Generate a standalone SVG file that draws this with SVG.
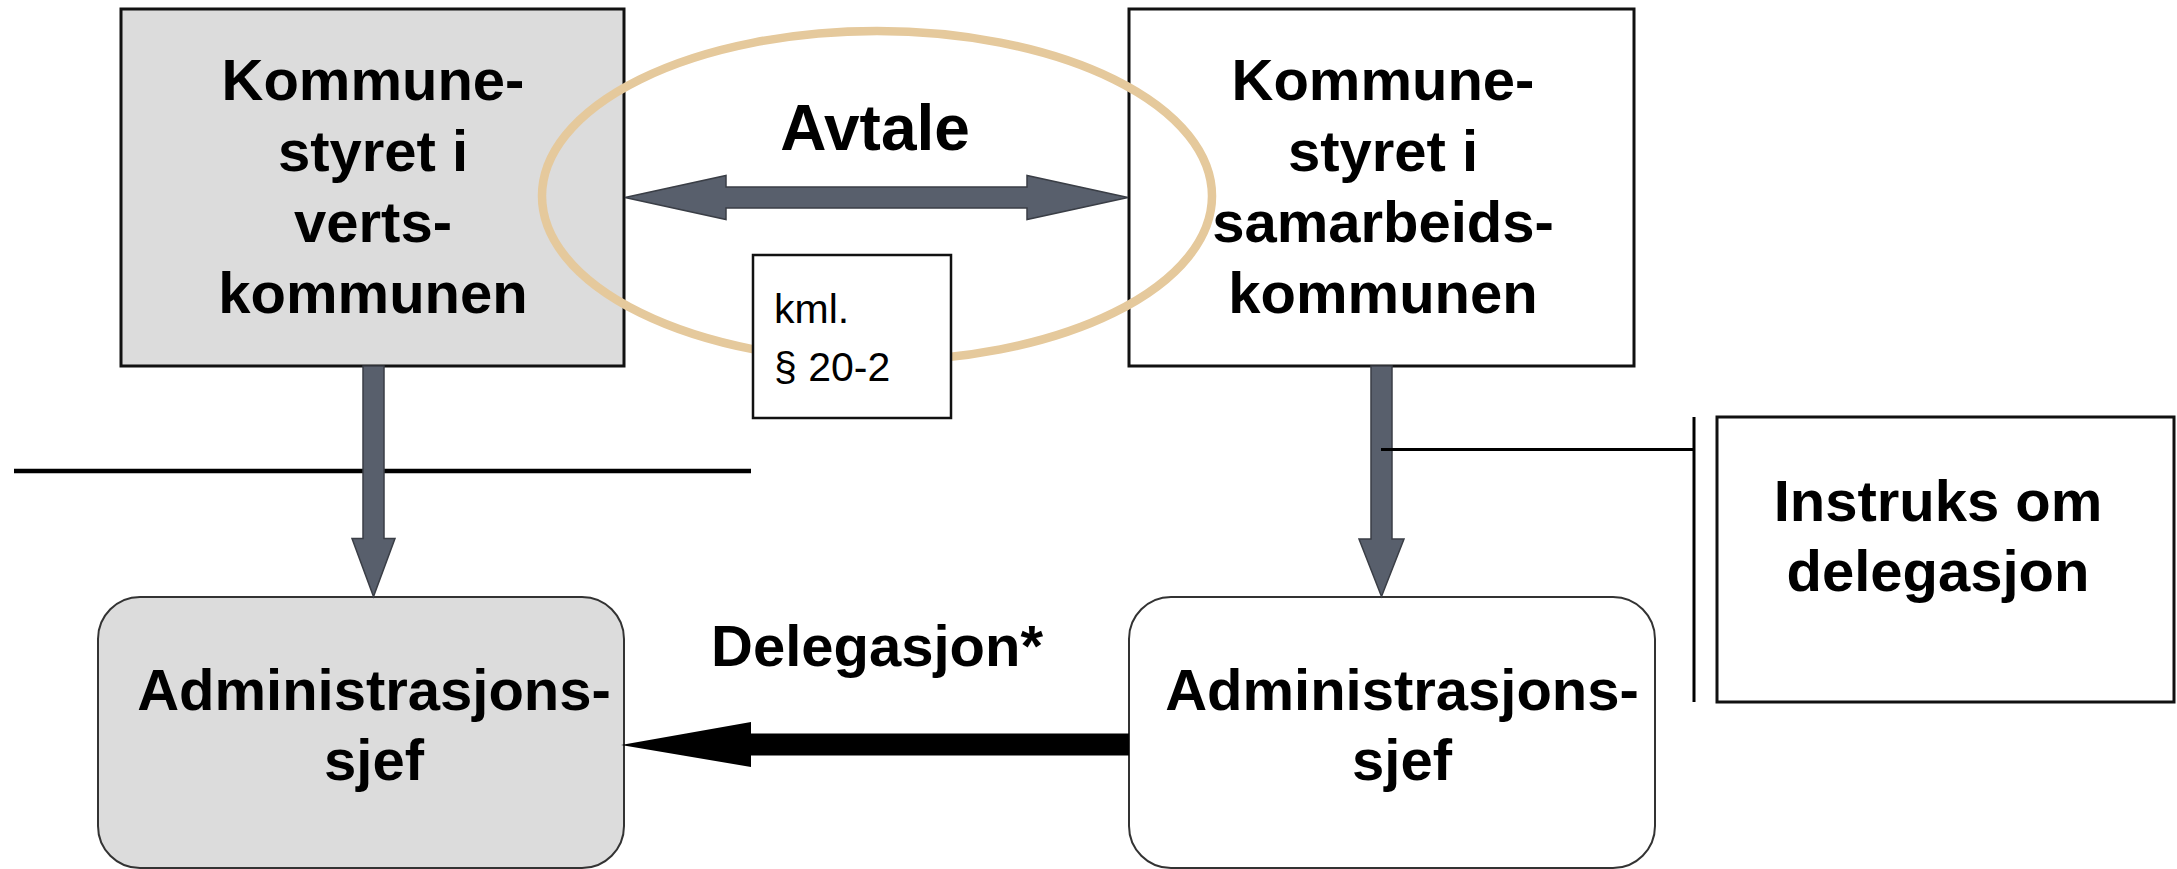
<svg xmlns="http://www.w3.org/2000/svg" width="2177" height="869" viewBox="0 0 2177 869">
<style>
.t{font-family:"Liberation Sans",Arial,sans-serif;font-weight:bold;font-size:58px;fill:#000;text-anchor:middle}
.s{font-family:"Liberation Sans",Arial,sans-serif;font-size:41px;fill:#000}
.box{stroke:#111;stroke-width:3}
.rbox{stroke:#333;stroke-width:2}
.arr{fill:#585f6c;stroke:#3a3e46;stroke-width:1.5;stroke-linejoin:miter}
</style>
<rect width="2177" height="869" fill="#fff"/>
<g id="verts">
<rect class="box" x="121" y="9" width="503" height="357" fill="#dcdcdc"/>
<text class="t" x="373" y="100">Kommune-</text>
<text class="t" x="373" y="171">styret i</text>
<text class="t" x="373" y="242">verts-</text>
<text class="t" x="373" y="313">kommunen</text>
</g>
<g id="samarbeid">
<rect class="box" x="1129" y="9" width="505" height="357" fill="#fff"/>
<text class="t" x="1383" y="100">Kommune-</text>
<text class="t" x="1383" y="171">styret i</text>
<text class="t" x="1383" y="242">samarbeids-</text>
<text class="t" x="1383" y="313">kommunen</text>
</g>
<g id="avtale">
<ellipse cx="877" cy="196" rx="335" ry="165" fill="none" stroke="#e5c99c" stroke-width="8.5"/>
<text class="t" x="875" y="150" style="font-size:64px">Avtale</text>
</g>
<g id="kml">
<rect x="753" y="255" width="198" height="163" fill="#fff" stroke="#111" stroke-width="2.5"/>
<text class="s" x="774" y="323">kml.</text>
<text class="s" x="774" y="381">§ 20-2</text>
</g>
<g id="admin-verts">
<rect class="rbox" x="98" y="597" width="526" height="271" rx="42" ry="42" fill="#dcdcdc"/>
<text class="t" x="374" y="710">Administrasjons-</text>
<text class="t" x="374" y="780">sjef</text>
</g>
<g id="admin-samarbeid">
<rect class="rbox" x="1129" y="597" width="526" height="271" rx="42" ry="42" fill="#fff"/>
<text class="t" x="1402" y="710">Administrasjons-</text>
<text class="t" x="1402" y="780">sjef</text>
</g>
<g id="instruks">
<rect class="box" x="1717" y="417" width="457" height="285" fill="#fff"/>
<text class="t" x="1938" y="521">Instruks om</text>
<text class="t" x="1938" y="591">delegasjon</text>
</g>
<g id="delegasjon-label">
<text class="t" x="877" y="666">Delegasjon*</text>
</g>
<g id="connectors">
<line x1="14" y1="471" x2="751" y2="471" stroke="#000" stroke-width="4.5"/>
<polygon class="arr" points="625,197.5 726,175.5 726,187 1027,187 1027,175.5 1128,197.5 1027,219.5 1027,208 726,208 726,219.5"/>
<polygon class="arr" points="363,366 384,366 384,538.5 395,538.5 373.5,596.5 352,538.5 363,538.5"/>
<polygon class="arr" points="1371,366 1392,366 1392,539 1404,539 1381.5,596.5 1359,539 1371,539"/>
<polygon points="621,745 751,722 751,733.5 1129,733.5 1129,755.5 751,755.5 751,767" fill="#000"/>
<line x1="1381" y1="449.5" x2="1694" y2="449.5" stroke="#000" stroke-width="3"/>
<line x1="1694" y1="417" x2="1694" y2="702" stroke="#000" stroke-width="3"/>
</g>
</svg>
